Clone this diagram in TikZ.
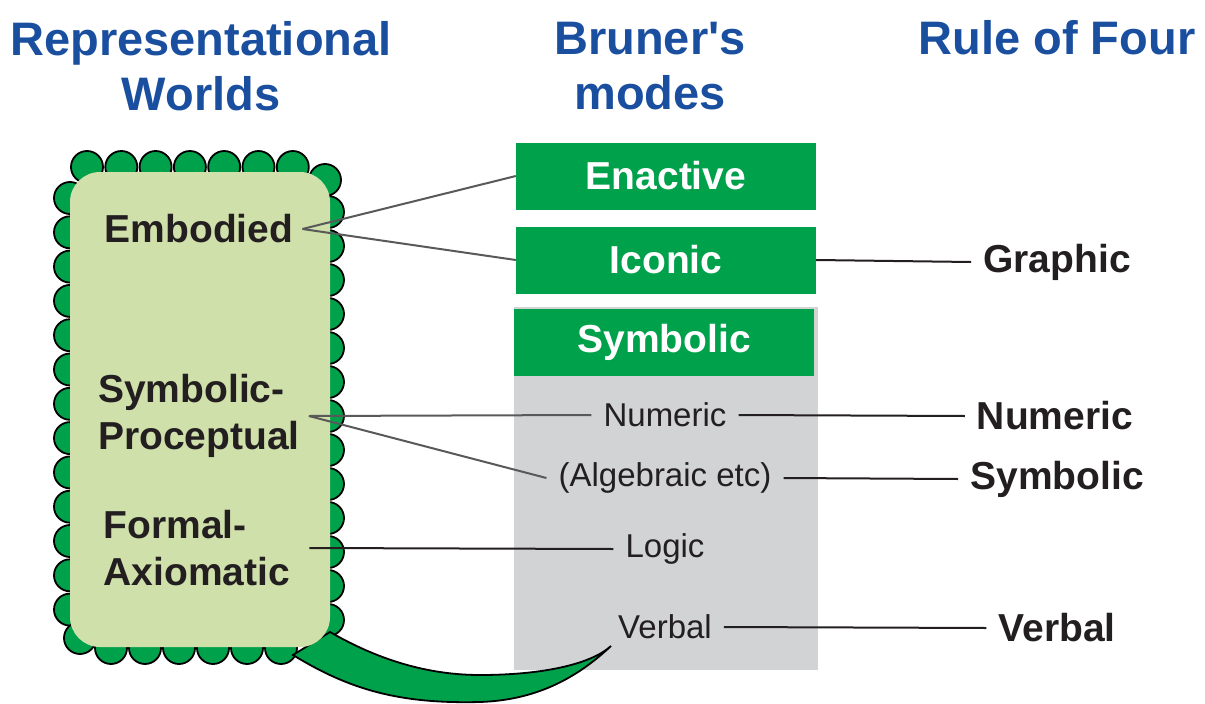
\documentclass[tikz,border=0pt]{standalone}
\usepackage{fontspec}
\setmainfont{Liberation Sans}
\usetikzlibrary{calc}
\definecolor{titleblue}{HTML}{1A4FA0}
\definecolor{modegreen}{HTML}{00A14B}
\definecolor{worldgreen}{HTML}{D0E0AB}
\definecolor{modegray}{HTML}{D1D3D4}
\definecolor{inkblack}{HTML}{231F20}
\begin{document}
\begin{tikzpicture}[x=1pt,y=-1pt,
  headline/.style={text=titleblue,font=\fontsize{47}{55}\selectfont\bfseries,align=center},
  world/.style={text=inkblack,font=\fontsize{39}{47}\selectfont\bfseries,align=left,inner sep=9pt},
  mode/.style={fill=modegreen,text=white,minimum width=300pt,minimum height=67pt,inner sep=0pt,font=\fontsize{39}{47}\selectfont\bfseries},
  modetext/.style={text=inkblack,font=\fontsize{33}{40}\selectfont,inner sep=12pt},
  fourlabel/.style={text=inkblack,font=\fontsize{39}{47}\selectfont\bfseries,inner sep=12pt},
  scallop/.style={fill=modegreen,draw=black,line width=1.8pt},
  link/.style={draw=black!65,line width=2pt},
  rule/.style={draw=inkblack,line width=2pt}]
\useasboundingbox (0,0) rectangle (1205,704);
\node[headline] (worlds) at (201,66) {Representational\\Worlds};
\node[headline] (bruner) at (650,66) {Bruner\textquotesingle s\\modes};
\node[headline] (four) at (1057,38) {Rule of Four};
\fill[modegray] (514,307) rectangle (818,670);
\foreach \k in {0,...,12}
{\filldraw[scallop] (70,198+34.3*\k) circle (16);
\filldraw[scallop] (328,212+34*\k) circle (16);}
\foreach \k in {0,...,6}
{\filldraw[scallop] (87+34.3*\k,167) circle (16);}
\foreach \k in {0,...,5}
{\filldraw[scallop] (111+34*\k,648) circle (16);}
\filldraw[scallop] (325,180) circle (16) (80,638) circle (16);
\filldraw[fill=modegreen,line width=1.8pt] (330,632) .. controls (370,655) and (420,675) .. (480,675)
 .. controls (540,675) and (590,665) .. (611,646) .. controls (580,675) and (540,700) .. (480,702)
 .. controls (400,704) and (350,690) .. (293,655) -- cycle;
\fill[worldgreen,rounded corners=30pt] (70,172) rectangle (330,647);
\node[mode] (enactive) at (666,176) {Enactive};
\node[mode] (iconic) at (666,260) {Iconic};
\node[mode] (symbolic) at (664,342) {Symbolic};
\node[modetext] (numeric) at (665,415) {Numeric};
\node[modetext] (algebraic) at (665,478) {(Algebraic etc)};
\node[modetext] (logic) at (665,549) {Logic};
\node[modetext] (verbal) at (665,627) {Verbal};
\node[world] (embodied) at (199,229) {Embodied};
\node[world] (procept) at (199,416) {Symbolic-\\Proceptual};
\node[world] (formal) at (197,548) {Formal-\\Axiomatic};
\node[fourlabel] (graphic) at (1057,262) {Graphic};
\node[fourlabel] (numericfour) at (1055,416) {Numeric};
\node[fourlabel] (symbolicfour) at (1057,479) {Symbolic};
\node[fourlabel] (verbalfour) at (1057,628) {Verbal};
\draw[link] (embodied.east) -- (enactive.west);
\draw[link] (embodied.east) -- (iconic.west);
\draw[link] (procept.east) -- (numeric.west);
\draw[link] (procept.east) -- (algebraic.west);
\draw[rule] ([xshift=10pt]formal.east) -- (logic.west);
\draw[rule] (iconic.east) -- (graphic.west);
\draw[rule] (numeric.east) -- (numericfour.west);
\draw[rule] (algebraic.east) -- (symbolicfour.west);
\draw[rule] (verbal.east) -- (verbalfour.west);
\end{tikzpicture}
\end{document}
